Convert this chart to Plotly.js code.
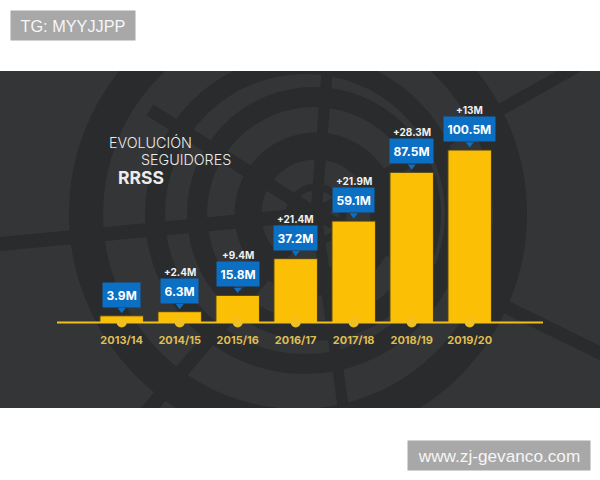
<!DOCTYPE html>
<html><head><meta charset="utf-8">
<script src="https://cdn.plot.ly/plotly-3.0.1.min.js"></script>
<style>html,body{margin:0;padding:0;background:#fff}</style></head>
<body><div id="chart" style="width:600px;height:480px"></div>
<script>
const seasons = ['2013/14','2014/15','2015/16','2016/17','2017/18','2018/19','2019/20'];
const followers = [3.9,6.3,15.8,37.2,59.1,87.5,100.5];
const growth = ['', '+2.4M','+9.4M','+21.4M','+21.9M','+28.3M','+13M'];
const heading = ['EVOLUCIÓN','SEGUIDORES','RRSS'];
const watermarks = ['TG: MYYJJPP','www.zj-gevanco.com'];

// page geometry
const W=600,H=480, panelTop=71, panelBottom=408, base=322.5, pxPerM=1.716, x0=121.7, step=58;
const yMin=-(panelBottom-base)/pxPerM, yMax=(base-panelTop)/pxPerM;
const X=p=>(p-x0)/step, Y=p=>(base-p)/pxPerM;
const PX=p=>p/W, PY=p=>1-p/H;

const DARK='#292b2d', LIGHT='#333536';
const rings=[[316,214,27,7],[316,214,68,27],[314,214,117,20],[305,214,150,20],[298,214,212,34]];
const spokes=[[316,214,328,60,11],[316,214,150,110,13],[316,214,-10,245,14],[316,214,140,420,14],[316,214,345,420,11],[316,214,610,358,13],[316,214,585,62,12]];
const shapes=[];
spokes.forEach(s=>shapes.push({type:'line',layer:'below',xref:'x',yref:'y',x0:X(s[0]),y0:Y(s[1]),x1:X(s[2]),y1:Y(s[3]),line:{color:DARK,width:s[4]}}));
rings.forEach(r=>shapes.push({type:'circle',layer:'below',xref:'x',yref:'y',x0:X(r[0]-r[2]),x1:X(r[0]+r[2]),y0:Y(r[1]-r[2]),y1:Y(r[1]+r[2]),line:{color:DARK,width:r[3]}}));
shapes.push({type:'line',layer:'above',xref:'x',yref:'y',x0:X(57),x1:X(543),y0:0,y1:0,line:{color:'#f2c01e',width:2}});

const annotations=[];
seasons.forEach((s,i)=>{
  annotations.push({xref:'x',yref:'y',x:s,y:followers[i],yanchor:'bottom',xanchor:'center',yshift:8,showarrow:false,
    text:'<b>'+followers[i]+'M</b>',bgcolor:'#0b6fc4',borderpad:3.5,height:17,valign:'middle',font:{family:'Inter',size:12,color:'#fff'}});
  if(growth[i]) annotations.push({xref:'x',yref:'y',x:s,y:followers[i],yanchor:'bottom',xanchor:'center',yshift:32,showarrow:false,
    text:'<b>'+growth[i]+'</b>',font:{family:'Inter',size:10,color:'#f0f0f0'}});
});
const hFont=(size,weight)=>({family:'Inter',size:size,color:'#ececec',weight:weight});
annotations.push({xref:'paper',yref:'paper',x:PX(107),y:PY(143),xanchor:'left',yanchor:'middle',showarrow:false,text:heading[0],font:hFont(14.3,300)});
annotations.push({xref:'paper',yref:'paper',x:PX(139),y:PY(159),xanchor:'left',yanchor:'middle',showarrow:false,text:heading[1],font:hFont(14.3,300)});
annotations.push({xref:'paper',yref:'paper',x:PX(116),y:PY(177),xanchor:'left',yanchor:'middle',showarrow:false,text:'<b>'+heading[2]+'</b>',font:hFont(17.5,700)});
annotations.push({xref:'paper',yref:'paper',x:PX(10),y:PY(10),xanchor:'left',yanchor:'top',showarrow:false,text:watermarks[0],width:124,height:29,align:'center',valign:'middle',bgcolor:'#a8a8a8',borderpad:0,font:{family:'Liberation Sans',size:16.3,color:'#f6f6f6'}});
annotations.push({xref:'paper',yref:'paper',x:PX(407),y:PY(440),xanchor:'left',yanchor:'top',showarrow:false,text:watermarks[1],width:182,height:29,align:'center',valign:'middle',bgcolor:'#a8a8a8',borderpad:0,font:{family:'Liberation Sans',size:17.2,color:'#f6f6f6'}});

const data=[
 {type:'bar',x:seasons,y:followers,width:0.75,marker:{color:'#fbbf05',line:{color:'#4a3f18',width:1}},hoverinfo:'skip'},
 {type:'scatter',mode:'markers',x:seasons,y:followers.map(()=>0),marker:{symbol:'circle',size:10,color:'#f2c01e'},hoverinfo:'skip'},
 {type:'scatter',mode:'markers',x:seasons,y:followers.map(v=>v+6/pxPerM),marker:{symbol:'triangle-down',size:7,color:'#0b6fc4'},hoverinfo:'skip'}
];
const layout={width:W,height:H,margin:{l:0,r:0,t:0,b:0},paper_bgcolor:'#fff',plot_bgcolor:LIGHT,showlegend:false,
 xaxis:{type:'category',categoryorder:'array',categoryarray:seasons,range:[X(0),X(600)],domain:[0,1],anchor:'free',position:PY(base),
   showgrid:false,zeroline:false,showline:false,ticks:'',ticklabelstandoff:9,tickangle:0,
   tickfont:{family:'Inter',size:11,color:'#dfbd55',weight:700}},
 yaxis:{domain:[PY(panelBottom),PY(panelTop)],range:[yMin,yMax],visible:false,showgrid:false,zeroline:false},
 shapes,annotations};
Plotly.newPlot('chart',data,layout,{displayModeBar:false,staticPlot:true});
</script></body></html>
